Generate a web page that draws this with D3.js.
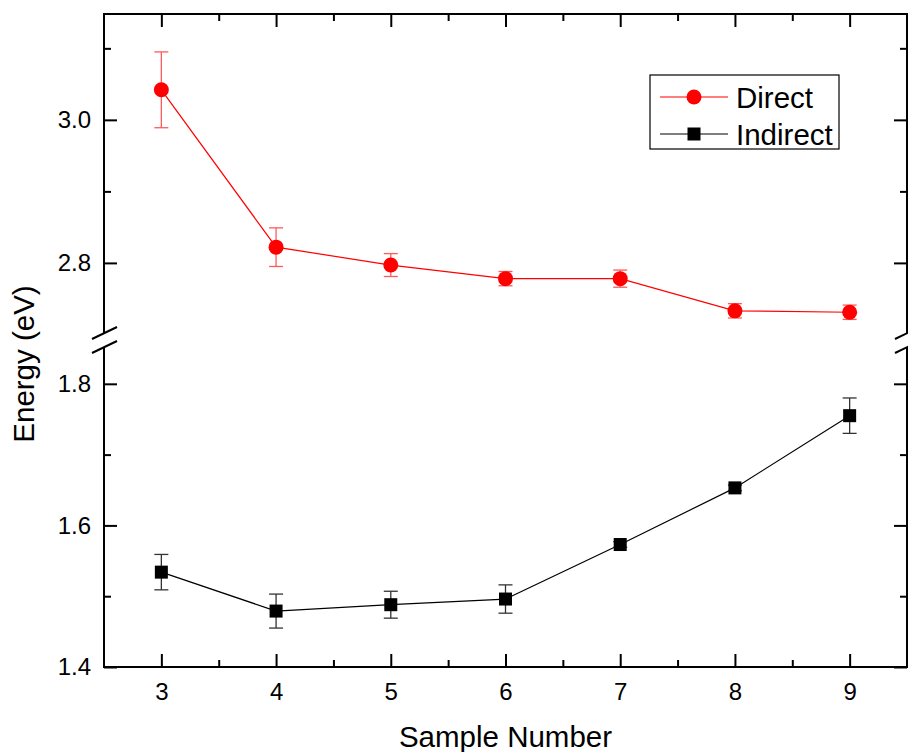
<!DOCTYPE html>
<html>
<head>
<meta charset="utf-8">
<script src="https://cdn.jsdelivr.net/npm/d3@7"></script>
<style>
  body { margin: 0; background: #fff; }
  text { font-family: Arial, "Liberation Sans", sans-serif; }
</style>
</head>
<body>
<div id="wrapper"></div>
<script>
// data
const samples = [3, 4, 5, 6, 7, 8, 9];
const directValues = [3.042, 2.822, 2.797, 2.778, 2.778, 2.733, 2.731];
const directErrors = [0.053, 0.027, 0.016, 0.010, 0.012, 0.010, 0.010];
const indirectValues = [1.534, 1.479, 1.488, 1.496, 1.573, 1.653, 1.755];
const indirectErrors = [0.025, 0.024, 0.019, 0.020, 0.004, 0.004, 0.025];
const upperTicks = [2.8, 3.0];
const lowerTicks = [1.4, 1.6, 1.8];

// dimensions
const width = 908;
const height = 752;
const plot = { left: 104, right: 907, top: 14, bottom: 667, breakTop: 333, breakBottom: 347 };

const svg = d3.select("#wrapper")
  .append("svg")
    .attr("width", width)
    .attr("height", height);

// scales
const xScale = d3.scaleLinear()
  .domain([2.5, 9.5])
  .range([plot.left, plot.right]);

const yUpper = d3.scaleLinear()
  .domain([2.702, 3.148])
  .range([plot.breakTop, plot.top]);

const yLower = d3.scaleLinear()
  .domain([1.4, 1.852])
  .range([plot.bottom, plot.breakBottom]);

const series = [
  { name: "Direct", values: directValues, errors: directErrors, y: yUpper, color: "#ff0000", errColor: "#ff5a5a", shape: "circle" },
  { name: "Indirect", values: indirectValues, errors: indirectErrors, y: yLower, color: "#000000", errColor: "#333", shape: "square" },
];

// axes
const tickFont = "24px";

function styleAxis(g) {
  g.select(".domain").remove();
  g.selectAll("line").attr("stroke", "#000").attr("stroke-width", 2);
  g.selectAll("text").style("font-size", tickFont).attr("fill", "#000")
    .style("font-family", "Arial, 'Liberation Sans', sans-serif");
}

// bottom
svg.append("g")
    .attr("transform", `translate(0, ${plot.bottom})`)
    .call(d3.axisBottom(xScale).tickValues(samples).tickSize(-13).tickPadding(16).tickFormat(d3.format("d")))
    .call(styleAxis);
svg.append("g")
    .attr("transform", `translate(0, ${plot.bottom})`)
    .call(d3.axisBottom(xScale).tickValues(d3.range(3.5, 9.5, 1)).tickSize(-7).tickFormat(""))
    .call(styleAxis);
// top
svg.append("g")
    .attr("transform", `translate(0, ${plot.top})`)
    .call(d3.axisTop(xScale).tickValues(samples).tickSize(-13).tickFormat(""))
    .call(styleAxis);
svg.append("g")
    .attr("transform", `translate(0, ${plot.top})`)
    .call(d3.axisTop(xScale).tickValues(d3.range(3.5, 9.5, 1)).tickSize(-7).tickFormat(""))
    .call(styleAxis);

// left / right, both segments
[[yUpper, upperTicks, [2.9, 3.1]], [yLower, lowerTicks, [1.5, 1.7]]].forEach(([ys, major, minor]) => {
  svg.append("g")
      .attr("transform", `translate(${plot.left}, 0)`)
      .call(d3.axisLeft(ys).tickValues(major).tickSize(-13).tickPadding(13).tickFormat(d3.format(".1f")))
      .call(styleAxis);
  svg.append("g")
      .attr("transform", `translate(${plot.left}, 0)`)
      .call(d3.axisLeft(ys).tickValues(minor).tickSize(-7).tickFormat(""))
      .call(styleAxis);
  svg.append("g")
      .attr("transform", `translate(${plot.right}, 0)`)
      .call(d3.axisRight(ys).tickValues(major).tickSize(-13).tickFormat(""))
      .call(styleAxis);
  svg.append("g")
      .attr("transform", `translate(${plot.right}, 0)`)
      .call(d3.axisRight(ys).tickValues(minor).tickSize(-7).tickFormat(""))
      .call(styleAxis);
});

// frame lines with the break
const frame = svg.append("g")
    .attr("stroke", "#000")
    .attr("stroke-width", 2)
    .attr("fill", "none");
frame.append("line")
    .attr("x1", plot.left - 1).attr("x2", plot.right + 1)
    .attr("y1", plot.top).attr("y2", plot.top);
frame.append("line")
    .attr("x1", plot.left - 1).attr("x2", plot.right + 1)
    .attr("y1", plot.bottom).attr("y2", plot.bottom);
[plot.left, plot.right].forEach(x => {
  frame.append("line")
      .attr("x1", x).attr("x2", x)
      .attr("y1", plot.top).attr("y2", plot.breakTop);
  frame.append("line")
      .attr("x1", x).attr("x2", x)
      .attr("y1", plot.breakBottom).attr("y2", plot.bottom);
  // break marks
  [plot.breakTop, plot.breakBottom].forEach(y => {
    frame.append("line")
        .attr("x1", x - 12).attr("y1", y + 6)
        .attr("x2", x + 13).attr("y2", y - 6);
  });
});

// data
series.forEach(s => {
  const g = svg.append("g");
  const line = d3.line()
    .x((d, i) => xScale(samples[i]))
    .y(d => s.y(d));

  g.append("path")
      .datum(s.values)
      .attr("d", line)
      .attr("fill", "none")
      .attr("stroke", s.color)
      .attr("stroke-width", 1.2);

  const err = g.append("g")
      .attr("stroke", s.errColor)
      .attr("stroke-width", 1.3);
  s.values.forEach((v, i) => {
    const x = xScale(samples[i]);
    const y0 = s.y(v - s.errors[i]);
    const y1 = s.y(v + s.errors[i]);
    err.append("line").attr("x1", x).attr("x2", x).attr("y1", y0).attr("y2", y1);
    err.append("line").attr("x1", x - 7).attr("x2", x + 7).attr("y1", y0).attr("y2", y0);
    err.append("line").attr("x1", x - 7).attr("x2", x + 7).attr("y1", y1).attr("y2", y1);
  });

  if (s.shape === "circle") {
    g.selectAll("circle")
      .data(s.values)
      .join("circle")
        .attr("cx", (d, i) => xScale(samples[i]))
        .attr("cy", d => s.y(d))
        .attr("r", 7.5)
        .attr("fill", s.color);
  } else {
    g.selectAll("rect")
      .data(s.values)
      .join("rect")
        .attr("x", (d, i) => xScale(samples[i]) - 6.5)
        .attr("y", d => s.y(d) - 6.5)
        .attr("width", 13)
        .attr("height", 13)
        .attr("fill", s.color);
  }
});

// legend
const legend = svg.append("g")
    .attr("transform", "translate(650, 75)");
legend.append("rect")
    .attr("width", 189)
    .attr("height", 74)
    .attr("fill", "#fff")
    .attr("stroke", "#000")
    .attr("stroke-width", 1.2);
series.forEach((s, i) => {
  const row = legend.append("g")
      .attr("transform", `translate(0, ${22 + i * 37})`);
  row.append("line")
      .attr("x1", 10).attr("x2", 78)
      .attr("stroke", s.color)
      .attr("stroke-width", 1.2);
  if (s.shape === "circle") {
    row.append("circle").attr("cx", 44).attr("r", 7.5).attr("fill", s.color);
  } else {
    row.append("rect").attr("x", 37.5).attr("y", -6.5).attr("width", 13).attr("height", 13).attr("fill", s.color);
  }
  row.append("text")
      .attr("x", 86)
      .attr("dy", "0.36em")
      .style("font-size", "29.5px")
      .text(s.name);
});

// axis titles
svg.append("text")
    .attr("x", (plot.left + plot.right) / 2)
    .attr("y", 747)
    .attr("text-anchor", "middle")
    .style("font-size", "29.5px")
    .text("Sample Number");

svg.append("text")
    .attr("transform", `translate(34, 364) rotate(-90)`)
    .attr("text-anchor", "middle")
    .style("font-size", "29.5px")
    .text("Energy (eV)");
</script>
</body>
</html>
